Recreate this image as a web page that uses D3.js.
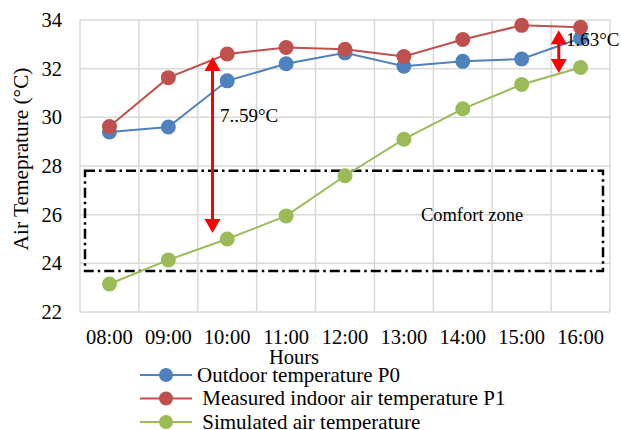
<!DOCTYPE html>
<html>
<head>
<meta charset="utf-8">
<script src="https://cdn.jsdelivr.net/npm/d3@7"></script>
<style>
  body { margin: 0; background: #fff; }
  text { font-family: "Liberation Serif", "Times New Roman", serif; fill: #000; }
</style>
</head>
<body>
<div id="chart"></div>
<script>
// data
var hours = ["08:00", "09:00", "10:00", "11:00", "12:00", "13:00", "14:00", "15:00", "16:00"];
var outdoorP0 = [29.4, 29.6, 31.5, 32.2, 32.65, 32.1, 32.3, 32.4, 33.25];
var indoorP1 = [29.62, 31.63, 32.6, 32.87, 32.8, 32.5, 33.2, 33.78, 33.7];
var simulated = [23.15, 24.14, 25.0, 25.95, 27.6, 29.1, 30.35, 31.35, 32.05];
var yTicks = [22, 24, 26, 28, 30, 32, 34];
var comfortZone = [23.68, 27.8];
// arrows: hour, offset within band, from, to, label
var arrows = [
  { hour: "10:00", off: -0.25, from: 32.48, to: 25.25, label: "7..59°C" },
  { hour: "16:00", off: -0.37, from: 33.58, to: 31.82, label: "1.63°C" }
];

var series = [
  { name: "Outdoor temperature P0", color: "#4f81bd", values: outdoorP0 },
  { name: " Measured indoor air temperature P1", color: "#c0504d", values: indoorP1 },
  { name: " Simulated air temperature", color: "#9bbb59", values: simulated }
];

var margin = { top: 20, right: 11, bottom: 118, left: 80 },
    width = 621 - margin.left - margin.right,
    height = 430 - margin.top - margin.bottom;

var svg = d3.select("#chart")
    .append("svg")
    .attr("width", 621)
    .attr("height", 430)
    .append("g")
    .attr("transform", "translate(" + margin.left + "," + margin.top + ")");

var x = d3.scaleBand().domain(hours).range([0, width]).padding(0);
var y = d3.scaleLinear().domain([22, 34]).range([height, 0]);
var cx = function (h) { return x(h) + x.bandwidth() / 2; };

// grid
svg.selectAll(".hgrid").data(yTicks).enter().append("line")
    .attr("x1", 0).attr("x2", width)
    .attr("y1", function (d) { return y(d); })
    .attr("y2", function (d) { return y(d); })
    .attr("stroke", "#d9d9d9").attr("stroke-width", 1.5);
svg.selectAll(".vgrid").data(hours.concat(["end"])).enter().append("line")
    .attr("x1", function (d, i) { return i * x.bandwidth(); })
    .attr("x2", function (d, i) { return i * x.bandwidth(); })
    .attr("y1", 0).attr("y2", height)
    .attr("stroke", "#d9d9d9").attr("stroke-width", 1.5);

// y axis labels
svg.selectAll(".ytick").data(yTicks).enter().append("text")
    .attr("x", -18)
    .attr("y", function (d) { return y(d) + 7; })
    .attr("text-anchor", "end")
    .style("font-size", "20.5px")
    .text(function (d) { return d; });

// x axis labels
svg.selectAll(".xtick").data(hours).enter().append("text")
    .attr("x", function (d) { return cx(d); })
    .attr("y", height + 32)
    .attr("text-anchor", "middle")
    .style("font-size", "20.5px")
    .text(function (d) { return d; });

// axis titles
svg.append("text")
    .attr("x", 294 - margin.left)
    .attr("y", 364 - margin.top)
    .attr("text-anchor", "middle")
    .style("font-size", "20.5px")
    .text("Hours");
svg.append("text")
    .attr("transform", "rotate(-90)")
    .attr("x", -(159 - margin.top))
    .attr("y", 28 - margin.left)
    .attr("text-anchor", "middle")
    .style("font-size", "21.3px")
    .text("Air Temeprature (°C)");

// comfort zone box
svg.append("rect")
    .attr("x", 5)
    .attr("y", y(comfortZone[1]))
    .attr("width", width - 12)
    .attr("height", y(comfortZone[0]) - y(comfortZone[1]))
    .attr("fill", "none")
    .attr("stroke", "#000")
    .attr("stroke-width", 2.5)
    .attr("stroke-dasharray", "10,4,2.5,4");
svg.append("text")
    .attr("x", 472 - margin.left)
    .attr("y", 221 - margin.top)
    .attr("text-anchor", "middle")
    .style("font-size", "18.5px")
    .text("Comfort zone");

// series lines and markers
var line = d3.line()
    .x(function (d, i) { return cx(hours[i]); })
    .y(function (d) { return y(d); });

series.forEach(function (s) {
    svg.append("path")
        .datum(s.values)
        .attr("fill", "none")
        .attr("stroke", s.color)
        .attr("stroke-width", 2)
        .attr("d", line);
    svg.selectAll(null).data(s.values).enter().append("circle")
        .attr("cx", function (d, i) { return cx(hours[i]); })
        .attr("cy", function (d) { return y(d); })
        .attr("r", 7.5)
        .attr("fill", s.color);
});

// red double arrows
arrows.forEach(function (a) {
    var ax = cx(a.hour) + a.off * x.bandwidth();
    var y1 = y(a.from), y2 = y(a.to);
    var hl = 14, hw = 8;
    svg.append("line")
        .attr("x1", ax).attr("x2", ax)
        .attr("y1", y1 + hl - 1).attr("y2", y2 - hl + 1)
        .attr("stroke", "#ff0000").attr("stroke-width", 3);
    svg.append("path")
        .attr("d", "M" + ax + "," + y1 + "L" + (ax - hw) + "," + (y1 + hl) + "L" + (ax + hw) + "," + (y1 + hl) + "Z")
        .attr("fill", "#ff0000");
    svg.append("path")
        .attr("d", "M" + ax + "," + y2 + "L" + (ax - hw) + "," + (y2 - hl) + "L" + (ax + hw) + "," + (y2 - hl) + "Z")
        .attr("fill", "#ff0000");
});
svg.append("text")
    .attr("x", 220 - margin.left)
    .attr("y", 122 - margin.top)
    .style("font-size", "19px")
    .text(arrows[0].label);
svg.append("text")
    .attr("x", 566 - margin.left)
    .attr("y", 46 - margin.top)
    .style("font-size", "19px")
    .text(arrows[1].label);

// legend
var legend = svg.selectAll(".legend").data(series).enter().append("g")
    .attr("transform", function (d, i) {
        return "translate(" + (140 - margin.left) + "," + (375 + i * 23.5 - margin.top) + ")";
    });
legend.append("line")
    .attr("x1", 0).attr("x2", 52)
    .attr("stroke", function (d) { return d.color; })
    .attr("stroke-width", 2);
legend.append("circle")
    .attr("cx", 26).attr("r", 7)
    .attr("fill", function (d) { return d.color; });
legend.append("text")
    .attr("x", 57)
    .attr("y", 6.5)
    .style("font-size", "21px")
    .style("white-space", "pre")
    .attr("xml:space", "preserve")
    .text(function (d) { return d.name; });
</script>
</body>
</html>
